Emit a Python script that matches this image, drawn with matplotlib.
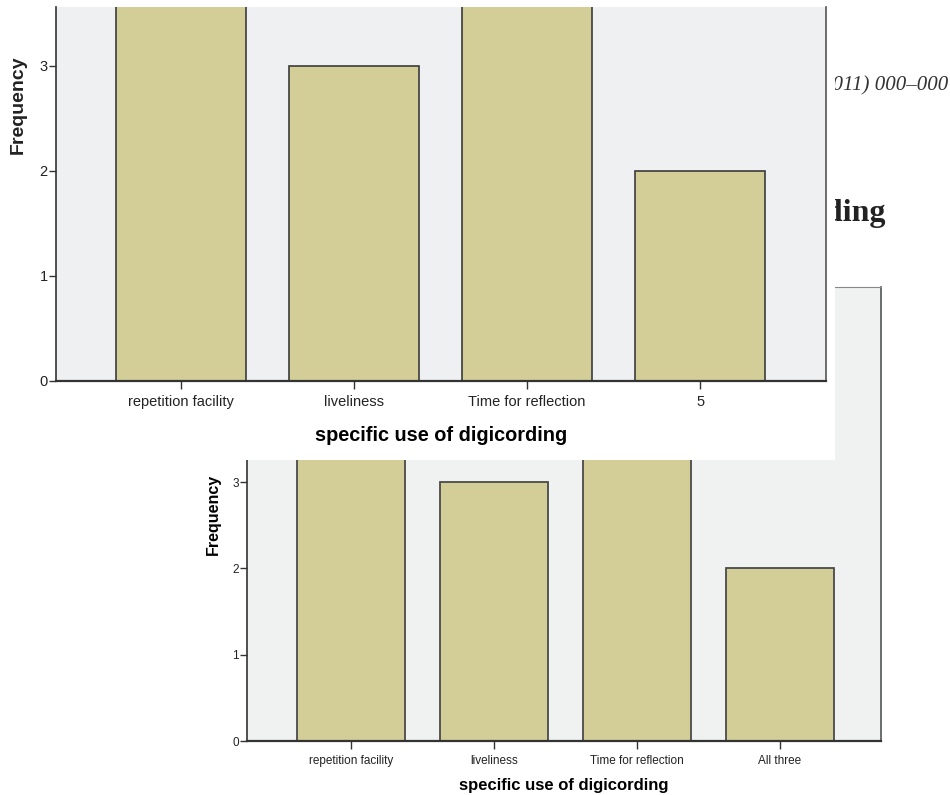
import matplotlib
matplotlib.use("Agg")
import matplotlib.pyplot as plt
from matplotlib.patches import Rectangle

# two SPSS-style frequency charts, the first drawn over the second
categories_top = ["repetition facility", "liveliness", "Time for reflection", "5"]
categories_bottom = ["repetition facility", "liveliness", "Time for reflection", "All three"]
frequency = [5, 3, 5, 2]  # the two tall bars are cut off in the picture
y_ticks = [0, 1, 2, 3]

W, H = 950, 795
bar_fill = "#d3ce97"
bar_edge = "#3b3b3b"
sans = ["Liberation Sans", "DejaVu Sans"]
serif = ["Liberation Serif", "DejaVu Serif"]


def box(x0, y0, x1, y1):
    # pixel box (top-left origin) -> figure fractions
    return [x0 / W, 1 - y1 / H, (x1 - x0) / W, (y1 - y0) / H]


def style(ax, tick_size, show_top, top_color):
    ax.spines["left"].set_color("#333333")
    ax.spines["bottom"].set_color("#333333")
    ax.spines["bottom"].set_linewidth(1.6)
    ax.spines["left"].set_linewidth(1.2)
    ax.spines["right"].set_color("#555555")
    ax.spines["right"].set_linewidth(1.2)
    ax.spines["top"].set_visible(show_top)
    ax.spines["top"].set_color(top_color)
    ax.tick_params(axis="both", direction="out", length=5, width=1,
                   color="#333333", labelcolor="#222222")
    ax.tick_params(axis="x", length=6, pad=4)
    ax.tick_params(axis="y", pad=1)
    for lab in ax.get_xticklabels() + ax.get_yticklabels():
        lab.set_fontfamily(sans)
        lab.set_fontsize(tick_size)


fig = plt.figure(figsize=(W / 100, H / 100), dpi=100)
fig.patch.set_facecolor("white")

# lower chart
ax2 = fig.add_axes(box(247, 287, 881, 741), zorder=0)
ax2.set_facecolor("#f0f1f1")
x = range(len(categories_bottom))
ax2.bar(x, frequency, width=0.755, color=bar_fill, edgecolor="#4a4a4a", linewidth=1.3)
ax2.set_xlim(-0.73, 3.71)
ax2.set_ylim(0, 5.26)
ax2.set_xticks(list(x))
ax2.set_xticklabels(categories_bottom)
ax2.set_yticks(y_ticks)  # higher ticks are hidden under the upper card
style(ax2, 8.5, True, "#888888")
ax2.set_xlabel("specific use of digicording", fontsize=12, fontweight="bold",
               family=sans, labelpad=8)
ax2.set_ylabel("Frequency", fontsize=11.5, fontweight="bold", family=sans, labelpad=8)

# bits of the paper page behind
fig.text(948 / W, 1 - 90 / H, "(2011) 000–000", ha="right", va="baseline",
         fontsize=15, style="italic", family=serif, color="#333333", zorder=0.5)
fig.text(886 / W, 1 - 221 / H, "Digicording", ha="right", va="baseline",
         fontsize=23, fontweight="bold", family=serif, color="#222222", zorder=0.5)

# white card of the upper chart
fig.patches.append(Rectangle((0, 1 - 460 / H), 835 / W, 460 / H,
                             transform=fig.transFigure, facecolor="white",
                             edgecolor="none", zorder=1))

# upper chart
ax1 = fig.add_axes(box(56, 7, 826, 381), zorder=2)
ax1.set_facecolor("#eff0f2")
ax1.bar(x, frequency, width=0.75, color=bar_fill, edgecolor=bar_edge, linewidth=1.2)
ax1.set_xlim(-0.7225, 3.728)
ax1.set_ylim(0, 3.56)
ax1.set_xticks(list(x))
ax1.set_xticklabels(categories_top)
ax1.set_yticks(y_ticks)
style(ax1, 10.5, False, "#888888")
ax1.set_xlabel("specific use of digicording", fontsize=14.3, fontweight="bold",
               family=sans, labelpad=12)
# label sits where the uncropped axis had its middle
fig.text(18 / W, 1 - 105 / H, "Frequency", rotation=90, ha="center", va="center",
         fontsize=14, fontweight="bold", family=sans, color="#222222", zorder=3)

fig.savefig("out.png", dpi=100)
